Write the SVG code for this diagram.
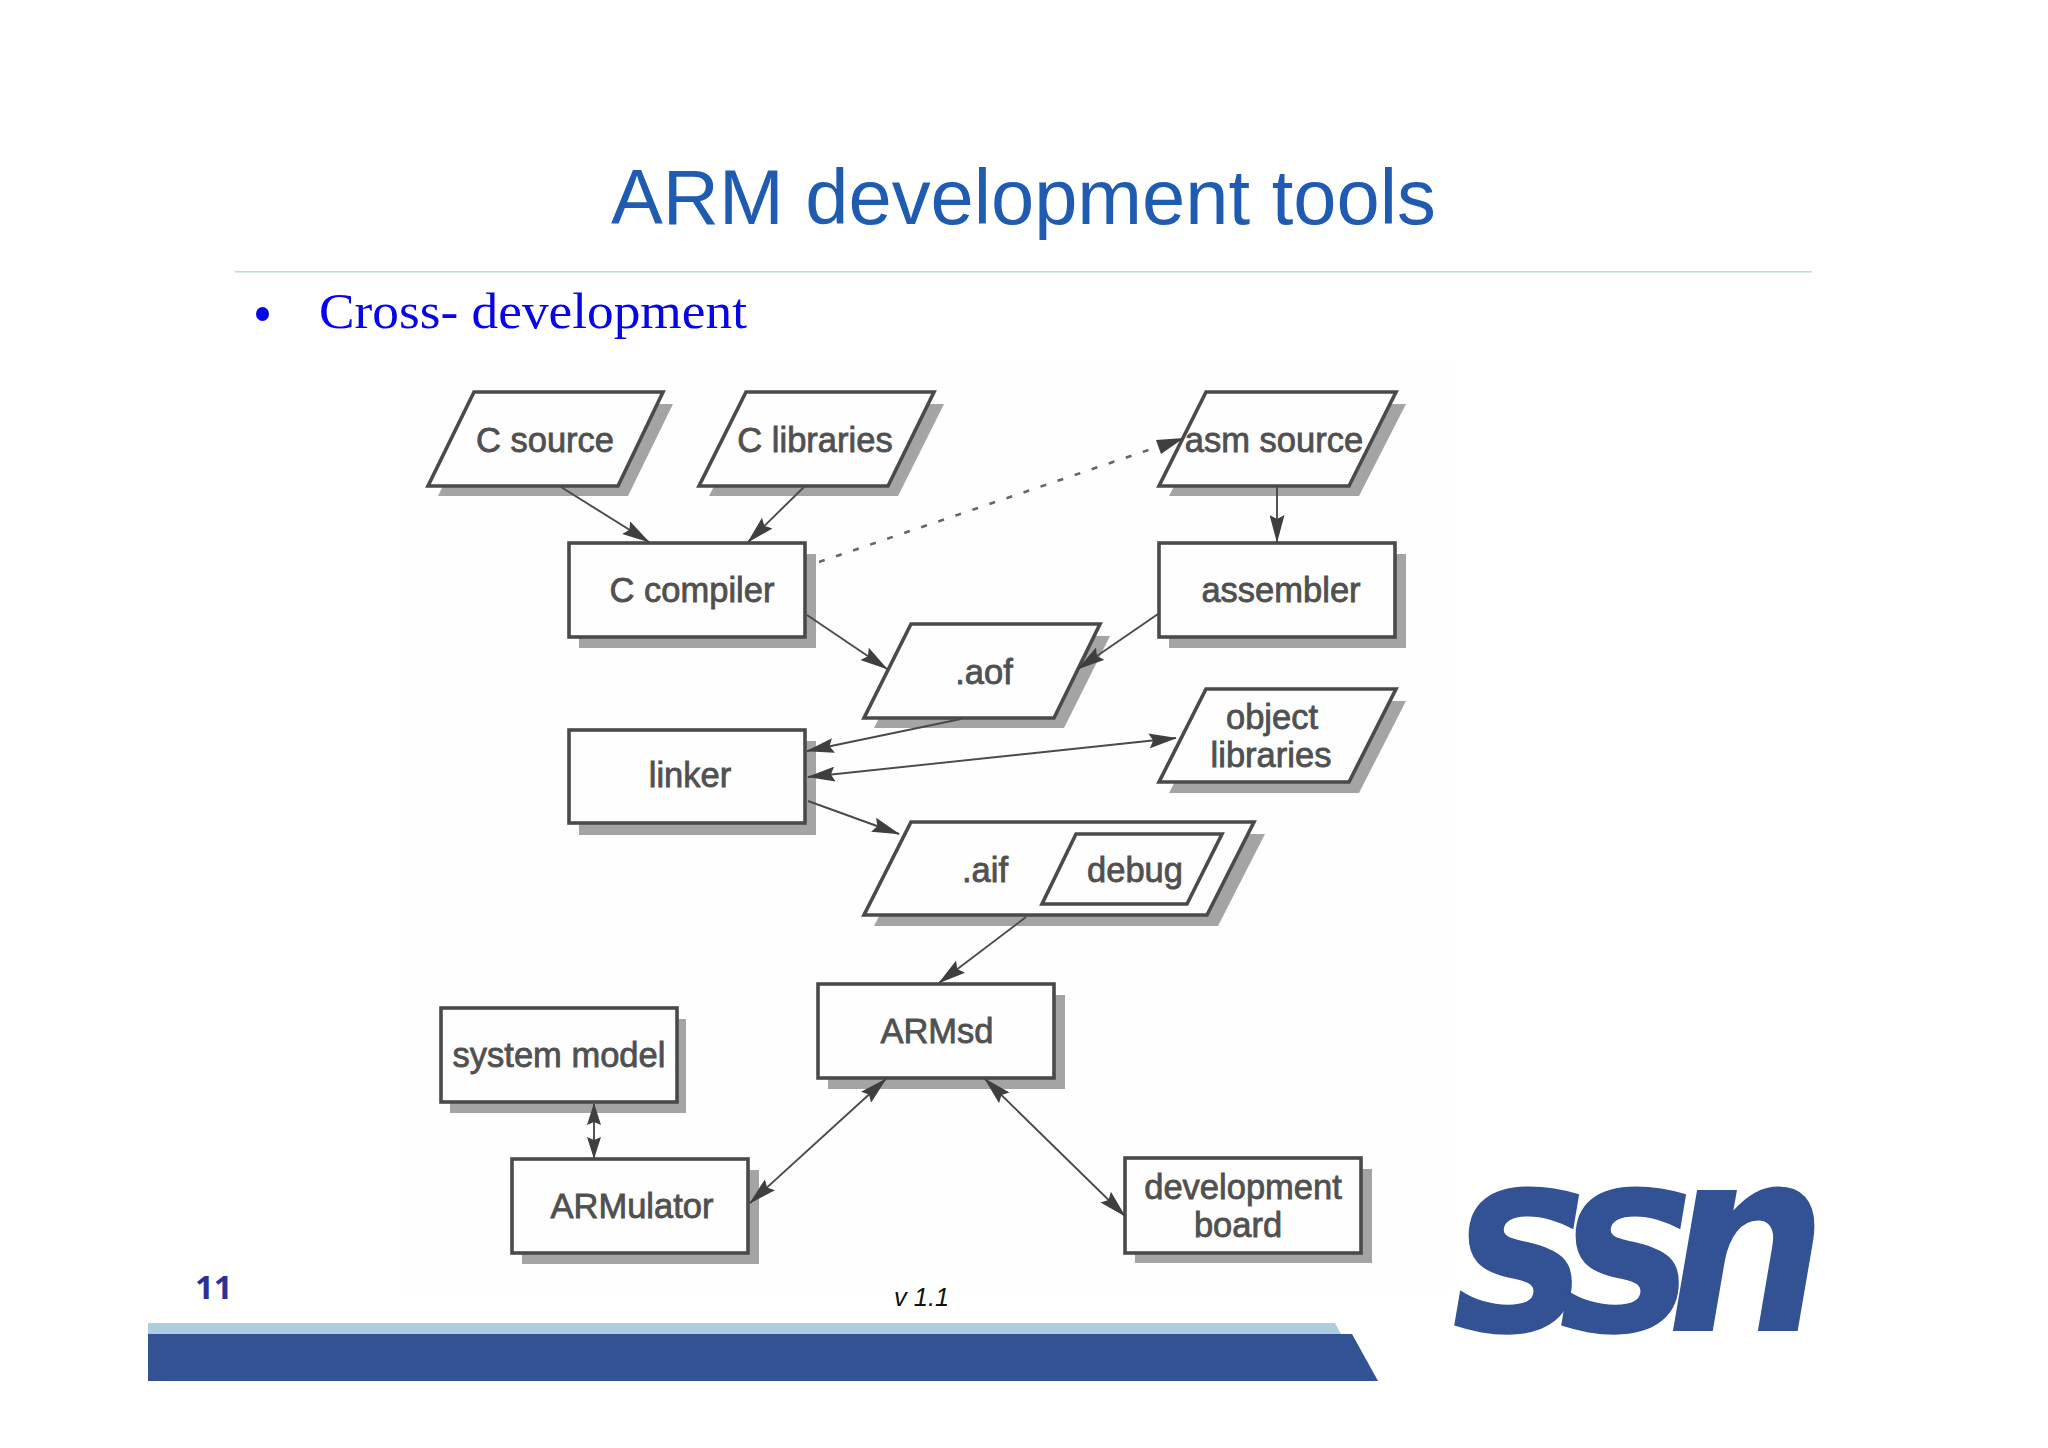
<svg xmlns="http://www.w3.org/2000/svg" width="2048" height="1448" viewBox="0 0 2048 1448">
<style>
.s{fill:#a4a4a4;stroke:none}
.b{fill:#fefefe;stroke:#4a4a4a;stroke-width:3.6;stroke-linejoin:miter}
.t{font-family:"Liberation Sans",Arial,sans-serif;font-size:34.500px;fill:#505050;stroke:#505050;stroke-width:.8;text-anchor:middle}
.c{fill:none;stroke:#4a4a4a;stroke-width:1.9}
.d{fill:none;stroke:#666;stroke-width:2.6;stroke-dasharray:6 12}
.l{font-family:"DejaVu Sans",sans-serif;font-weight:700;font-style:italic;font-size:258px;fill:#325294;letter-spacing:-32px}
</style>
<defs>
<marker id="a" viewBox="0 0 28 15" refX="27" refY="7.500" markerUnits="userSpaceOnUse" markerWidth="28" markerHeight="15" orient="auto-start-reverse"><path d="M0 0L28 7.500L0 15L4 7.500Z" fill="#3f3f3f"/></marker>
<marker id="e" viewBox="0 0 22 14" refX="21" refY="7" markerUnits="userSpaceOnUse" markerWidth="22" markerHeight="14" orient="auto-start-reverse"><path d="M0 0L22 7L0 14L3 7Z" fill="#3f3f3f"/></marker>
</defs>
<rect width="2048" height="1448" fill="#fff"/>
<rect x="400" y="360" width="1050" height="930" fill="#fefefe"/>
<text x="611" y="224" font-family="'Liberation Sans',Arial,sans-serif" font-size="77.700" fill="#1f5bb0">ARM development tools</text>
<rect x="235" y="271" width="1577" height="1.6" fill="#bfdcdc"/>
<ellipse cx="262.500" cy="314" rx="6.500" ry="7" fill="#0505e6"/>
<text x="319" y="328" font-family="'Liberation Serif','Times New Roman',serif" font-size="51" fill="#0505e6" textLength="428" lengthAdjust="spacingAndGlyphs">Cross- development</text>

<g transform="translate(0 1)">
<g id="c-source"><polygon class="s" points="484,403 673,403 628,495 438,495"/><polygon class="b" points="474,391 663,391 618,485 428,485"/><text class="t" x="545" y="451">C source</text></g>
<g id="c-libraries"><polygon class="s" points="756,403 944,403 898,495 709,495"/><polygon class="b" points="746,391 934,391 888,485 699,485"/><text class="t" x="815" y="451">C libraries</text></g>
<g id="asm-source"><polygon class="s" points="1216,403 1406,403 1359,495 1169,495"/><polygon class="b" points="1206,391 1396,391 1349,485 1159,485"/><text class="t" x="1274" y="451">asm source</text></g>
<g id="c-compiler"><rect class="s" x="579" y="553" width="237" height="94"/><rect class="b" x="569" y="542" width="236" height="94"/><text class="t" x="692" y="601">C compiler</text></g>
<g id="assembler"><rect class="s" x="1169" y="553" width="237" height="94"/><rect class="b" x="1159" y="542" width="236" height="94"/><text class="t" x="1281" y="601">assembler</text></g>
<g id="aof"><polygon class="s" points="921,635 1110,635 1064,727 874,727"/><polygon class="b" points="911,623 1100,623 1054,717 864,717"/><text class="t" x="984" y="683">.aof</text></g>
<g id="linker"><rect class="s" x="579" y="740" width="237" height="94"/><rect class="b" x="569" y="729" width="236" height="93"/><text class="t" x="690" y="786">linker</text></g>
<g id="object-libraries"><polygon class="s" points="1216,700 1406,700 1359,792 1169,792"/><polygon class="b" points="1206,688 1396,688 1349,781 1159,781"/><text class="t" x="1272" y="728">object</text><text class="t" x="1271" y="766">libraries</text></g>
<g id="aif"><polygon class="s" points="921,833 1265,833 1218,925 874,925"/><polygon class="b" points="911,821 1254,821 1207,914 864,914"/><text class="t" x="985" y="881">.aif</text><polygon class="b" points="1076,833 1222,833 1187,903 1042,903"/><text class="t" x="1135" y="881">debug</text></g>
<g id="armsd"><rect class="s" x="828" y="994" width="237" height="94"/><rect class="b" x="818" y="983" width="236" height="94"/><text class="t" x="937" y="1042">ARMsd</text></g>
<g id="system-model"><rect class="s" x="450" y="1018" width="236" height="94"/><rect class="b" x="441" y="1007" width="236" height="94"/><text class="t" x="559" y="1066">system model</text></g>
<g id="armulator"><rect class="s" x="522" y="1169" width="237" height="94"/><rect class="b" x="512" y="1158" width="236" height="94"/><text class="t" x="632" y="1217">ARMulator</text></g>
<g id="development-board"><rect class="s" x="1135" y="1168" width="237" height="94"/><rect class="b" x="1125" y="1157" width="236" height="95"/><text class="t" x="1243" y="1198">development</text><text class="t" x="1238" y="1236">board</text></g>

<g id="connectors">
<path class="c" d="M561 486L649 541" marker-end="url(#a)"/>
<path class="c" d="M804 486L748 541" marker-end="url(#a)"/>
<path class="d" d="M819 561L1160 445"/>
<path d="M1184 437L1156 439L1161 453Z" fill="#3f3f3f"/>
<path class="c" d="M1277 486V541" marker-end="url(#a)"/>
<path class="c" d="M807 614L887 668" marker-end="url(#a)"/>
<path class="c" d="M1158 613L1078 668" marker-end="url(#a)"/>
<path class="c" d="M961 718L807 750" marker-end="url(#a)"/>
<path class="c" d="M808 776L1176 737" marker-start="url(#a)" marker-end="url(#a)"/>
<path class="c" d="M808 800L899 833" marker-end="url(#a)"/>
<path class="c" d="M1026 916L939 982" marker-end="url(#a)"/>
<path class="c" d="M594 1103V1157" marker-start="url(#e)" marker-end="url(#e)"/>
<path class="c" d="M886 1078L750 1202" marker-start="url(#a)" marker-end="url(#a)"/>
<path class="c" d="M985 1078L1125 1215" marker-start="url(#a)" marker-end="url(#a)"/>
</g>
</g>

<text x="195" y="1299" font-family="'Open Sans',sans-serif" font-weight="700" font-size="33" fill="#2e3192">11</text>
<text x="894" y="1306" font-family="'Liberation Sans',Arial,sans-serif" font-style="italic" font-size="25.500" fill="#111">v 1.1</text>
<polygon points="148,1323 1335,1323 1341,1334 148,1334" fill="#aecde0"/>
<polygon points="148,1334 1352,1334 1378,1381 148,1381" fill="#325294"/>
<text id="logo" class="l" transform="translate(1452 1331) scale(.88 1)">ssn</text>
</svg>
